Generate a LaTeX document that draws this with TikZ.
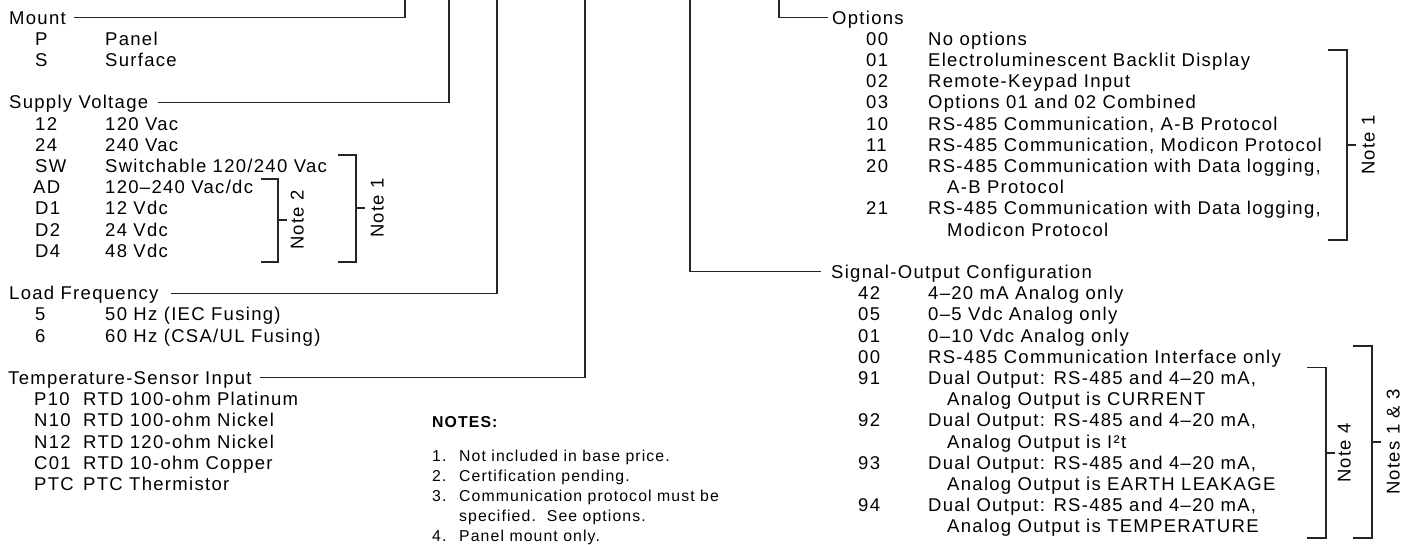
\documentclass[tikz,border=0pt]{standalone}
\usepackage{fontspec}
\setmainfont{Liberation Sans}[LetterSpace=7]
\usetikzlibrary{positioning}

\begin{document}
\begin{tikzpicture}[
  x=1pt,y=-1pt,
  every node/.style={inner sep=0pt,anchor=west,text height=13.3pt,text depth=0pt,font=\fontsize{18.5}{21}\selectfont},
  lead/.style={line width=1.1pt,black!85},
  brace/.style={line width=1.1pt,black!85},
  notetag/.style={rotate=90,anchor=center},
  small/.style={font=\fontsize{15.8}{20}\selectfont,text height=11.3pt},
]
\useasboundingbox (0,0) rectangle (1414,545);

% === top ends of the leads ===
\coordinate (mounttop) at (405,0);
\coordinate (supplytop) at (449,0);
\coordinate (loadtop) at (497,0);
\coordinate (temptop) at (585,0);
\coordinate (signaltop) at (690,0);
\coordinate (optionstop) at (779,0);

% === LEFT: Mount ===
\node (mount) at (9,17.5) {Mount};
\node (mP) at (35,38.7) {P};        \node (mPd) at (105,38.7) {Panel};
\node (mS) at (35,59.9) {S};        \node (mSd) at (105,59.9) {Surface};
\draw[lead] ([xshift=8pt]mount.east) -| (mounttop);

% === LEFT: Supply Voltage ===
\node (supply) at (9,102.3) {Supply Voltage};
\node (v12) at (35,123.5) {12};     \node (v12d) at (105,123.5) {120 Vac};
\node (v24) at (35,144.7) {24};     \node (v24d) at (105,144.7) {240 Vac};
\node (vSW) at (35,165.9) {SW};     \node (vSWd) at (105,165.9) {Switchable 120/240 Vac};
\node (vAD) at (33,187.1) {AD};     \node (vADd) at (105,187.1) {120–240 Vac/dc};
\node (vD1) at (35,208.3) {D1};     \node (vD1d) at (105,208.3) {12 Vdc};
\node (vD2) at (35,229.5) {D2};     \node (vD2d) at (105,229.5) {24 Vdc};
\node (vD4) at (35,250.7) {D4};     \node (vD4d) at (105,250.7) {48 Vdc};
\draw[lead] ([xshift=10pt]supply.east) -| (supplytop);

% brackets for the supply notes
\draw[brace] (261,179) -| (278,262) -- (261,262);
\draw[brace] (278,220) -- (287,220);
\node[notetag] (note2a) at (297,220) {Note 2};
\draw[brace] (338,155) -| (356,262) -- (338,262);
\draw[brace] (356,208) -- (365,208);
\node[notetag] (note1a) at (377,208) {Note 1};

% === LEFT: Load Frequency ===
\node (load) at (9,293.1) {Load Frequency};
\node (f5) at (35,314.3) {5};       \node (f5d) at (105,314.3) {50 Hz (IEC Fusing)};
\node (f6) at (35,335.5) {6};       \node (f6d) at (105,335.5) {60 Hz (CSA/UL Fusing)};
\draw[lead] ([xshift=12pt]load.east) -| (loadtop);

% === LEFT: Temperature-Sensor Input ===
\node (temp) at (8,377.9) {Temperature-Sensor Input};
\node (tP10) at (34,399.1) {P10};   \node (tP10d) at (83,399.1) {RTD 100-ohm Platinum};
\node (tN10) at (34,420.3) {N10};   \node (tN10d) at (83,420.3) {RTD 100-ohm Nickel};
\node (tN12) at (34,441.5) {N12};   \node (tN12d) at (83,441.5) {RTD 120-ohm Nickel};
\node (tC01) at (34,462.7) {C01};   \node (tC01d) at (83,462.7) {RTD 10-ohm Copper};
\node (tPTC) at (34,483.9) {PTC};   \node (tPTCd) at (83,483.9) {PTC Thermistor};
\draw[lead] ([xshift=8pt]temp.east) -| (temptop);

% === MIDDLE: notes ===
\node[small,font=\fontsize{15.8}{20}\bfseries] (notes) at (432,422) {NOTES:};
\node[small] (note1) at (432,456) {\makebox[27pt][l]{1.}Not included in base price.};
\node[small] (note2) at (432,476) {\makebox[27pt][l]{2.}Certification pending.};
\node[small] (note3) at (432,496) {\makebox[27pt][l]{3.}Communication protocol must be};
\node[small] (note3b) at (459,516) {specified.\ \ See options.};
\node[small] (note4) at (432,536) {\makebox[27pt][l]{4.}Panel mount only.};

% === RIGHT: Options ===
\node (options) at (832,17.5) {Options};
\draw[lead] (optionstop) |- ([xshift=-4pt]options.west);
\node (o00) at (866,38.7) {00};     \node (o00d) at (928,38.7) {No options};
\node (o01) at (866,59.9) {01};     \node (o01d) at (928,59.9) {Electroluminescent Backlit Display};
\node (o02) at (866,81.1) {02};     \node (o02d) at (928,81.1) {Remote-Keypad Input};
\node (o03) at (866,102.3) {03};    \node (o03d) at (928,102.3) {Options 01 and 02 Combined};
\node (o10) at (866,123.5) {10};    \node (o10d) at (928,123.5) {RS-485 Communication, A-B Protocol};
\node (o11) at (866,144.7) {11};    \node (o11d) at (928,144.7) {RS-485 Communication, Modicon Protocol};
\node (o20) at (866,165.9) {20};    \node (o20d) at (928,165.9) {RS-485 Communication with Data logging,};
                                    \node (o20e) at (947,187.1) {A-B Protocol};
\node (o21) at (866,208.3) {21};    \node (o21d) at (928,208.3) {RS-485 Communication with Data logging,};
                                    \node (o21e) at (947,229.5) {Modicon Protocol};
\draw[brace] (1328,50) -| (1347,240) -- (1328,240);
\draw[brace] (1347,145) -- (1356,145);
\node[notetag] (note1b) at (1368,145) {Note 1};

% === RIGHT: Signal-Output Configuration ===
\node (signal) at (831,271.9) {Signal-Output Configuration};
\draw[lead] (signaltop) |- ([xshift=-10pt]signal.west);
\node (s42) at (858,293.1) {42};    \node (s42d) at (928,293.1) {4–20 mA Analog only};
\node (s05) at (858,314.3) {05};    \node (s05d) at (928,314.3) {0–5 Vdc Analog only};
\node (s01) at (858,335.5) {01};    \node (s01d) at (928,335.5) {0–10 Vdc Analog only};
\node (s00) at (858,356.7) {00};    \node (s00d) at (928,356.7) {RS-485 Communication Interface only};
\node (s91) at (858,377.9) {91};    \node (s91d) at (928,377.9) {Dual Output: RS-485 and 4–20 mA,};
                                    \node (s91e) at (947,399.1) {Analog Output is CURRENT};
\node (s92) at (858,420.3) {92};    \node (s92d) at (928,420.3) {Dual Output: RS-485 and 4–20 mA,};
                                    \node (s92e) at (947,441.5) {Analog Output is I²t};
\node (s93) at (858,462.7) {93};    \node (s93d) at (928,462.7) {Dual Output: RS-485 and 4–20 mA,};
                                    \node (s93e) at (947,483.9) {Analog Output is EARTH LEAKAGE};
\node (s94) at (858,505.1) {94};    \node (s94d) at (928,505.1) {Dual Output: RS-485 and 4–20 mA,};
                                    \node (s94e) at (947,526.3) {Analog Output is TEMPERATURE};
\draw[brace] (1307,367.8) -| (1326,538) -- (1307,538);
\draw[brace] (1326,453) -- (1335,453);
\node[notetag] (note4a) at (1344,453) {Note 4};
\draw[brace] (1353,346) -| (1372,538) -- (1353,538);
\draw[brace] (1372,442) -- (1381,442);
\node[notetag] (note13) at (1393,442) {Notes 1 \& 3};

\end{tikzpicture}
\end{document}
